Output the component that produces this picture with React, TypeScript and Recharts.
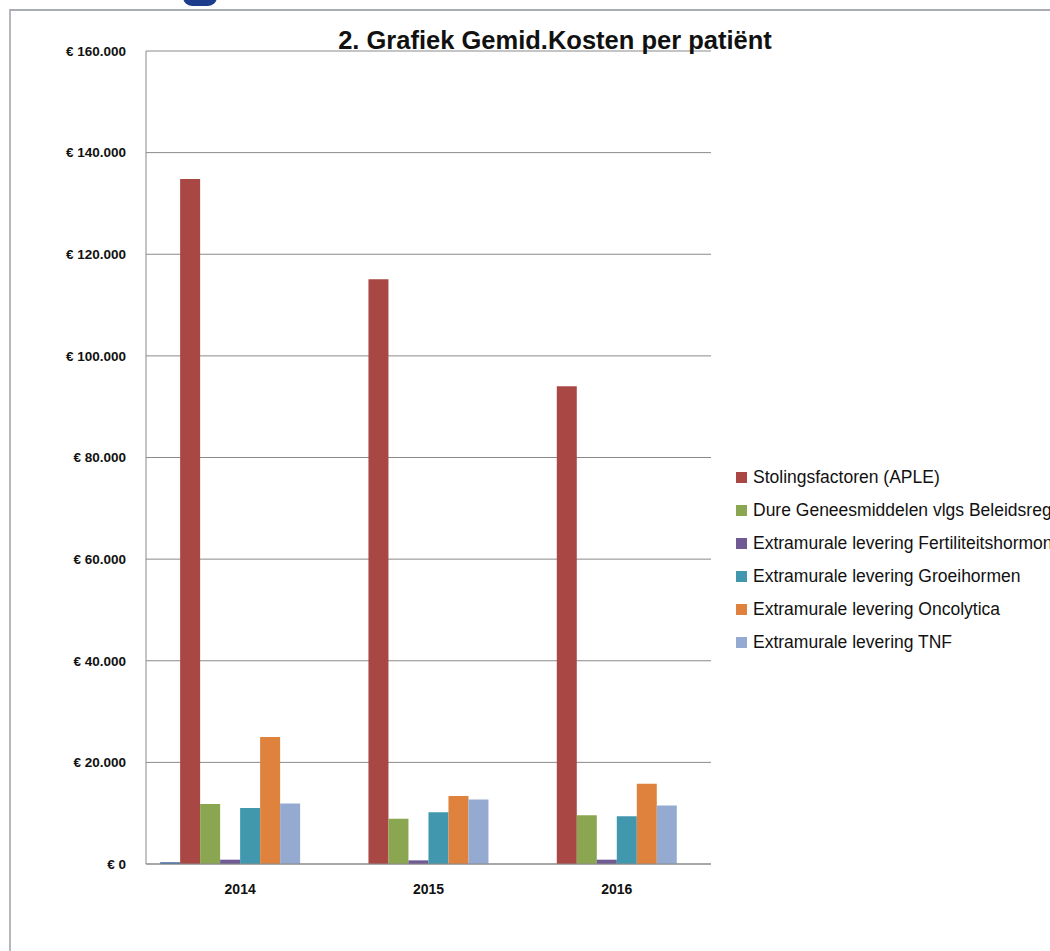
import { BarChart, Bar, XAxis, YAxis, CartesianGrid } from "recharts";

const years = ["2014", "2015", "2016"];
// eerste en laatste reeks staan niet in de legenda
const overig = [350, 0, 0];
const stolingsfactoren = [134800, 115100, 94000];
const dureGeneesmiddelen = [11800, 8900, 9600];
const fertiliteit = [850, 720, 850];
const groeihormen = [11000, 10200, 9400];
const oncolytica = [25000, 13400, 15800];
const tnf = [11900, 12700, 11500];
const leeg = [0, 0, 0];

const yTicks = [0, 20000, 40000, 60000, 80000, 100000, 120000, 140000, 160000];

const series = [
  { key: "overig", name: "Overig", color: "#4370A8", hidden: true },
  { key: "stolings", name: "Stolingsfactoren (APLE)", color: "#A94745" },
  { key: "dure", name: "Dure Geneesmiddelen vlgs Beleidsregel", color: "#8BA650" },
  { key: "fert", name: "Extramurale levering Fertiliteitshormonen", color: "#6F5A94" },
  { key: "groei", name: "Extramurale levering Groeihormen", color: "#4197AE" },
  { key: "onco", name: "Extramurale levering Oncolytica", color: "#DE823E" },
  { key: "tnf", name: "Extramurale levering TNF", color: "#95AAD1" },
  { key: "leeg", name: "Leeg", color: "#F2A9A9", hidden: true },
];

const data = years.map((year, i) => ({
  year,
  overig: overig[i],
  stolings: stolingsfactoren[i],
  dure: dureGeneesmiddelen[i],
  fert: fertiliteit[i],
  groei: groeihormen[i],
  onco: oncolytica[i],
  tnf: tnf[i],
  leeg: leeg[i],
}));

const euro = (v: number) =>
  v === 0 ? "€ 0" : "€ " + String(v).replace(/\B(?=(\d{3})+(?!\d))/g, ".");

const font = "'Liberation Sans', Arial, sans-serif";

function LegendBox() {
  return (
    <div
      style={{
        position: "absolute",
        left: 736,
        top: 461,
        fontFamily: font,
        fontSize: 17.5,
        color: "#111",
      }}
    >
      {series
        .filter((s) => !s.hidden)
        .map((s) => (
          <div
            key={s.key}
            style={{ height: 33, display: "flex", alignItems: "center", whiteSpace: "nowrap" }}
          >
            <span
              style={{ width: 11, height: 11, background: s.color, marginRight: 6, flex: "none" }}
            />
            {s.name}
          </div>
        ))}
    </div>
  );
}

export default function App() {
  return (
    <div
      style={{
        position: "fixed",
        left: 0,
        top: 0,
        width: 1050,
        height: 951,
        overflow: "hidden",
        background: "#fff",
      }}
    >
      {/* kader van de grafiek */}
      <div
        style={{
          position: "absolute",
          left: 9,
          top: 9,
          width: 1100,
          height: 1000,
          borderTop: "2px solid #a9adb3",
          borderLeft: "2px solid #b4b8bd",
        }}
      />
      <div
        style={{
          position: "absolute",
          left: 183,
          top: -12,
          width: 34,
          height: 18,
          borderRadius: 9,
          background: "#1c3d8c",
        }}
      />
      <div style={{ position: "absolute", left: 0, top: 0 }}>
        <BarChart
          width={1050}
          height={951}
          data={data}
          margin={{ top: 51, right: 339, left: 0, bottom: 47 }}
          barCategoryGap="7.5%"
          barGap={0}
        >
          <CartesianGrid vertical={false} stroke="#8a8a8a" />
          <XAxis
            dataKey="year"
            height={40}
            axisLine={{ stroke: "#8a8a8a" }}
            tickLine={false}
            tickMargin={14}
            tick={{ fontFamily: font, fontSize: 14, fontWeight: "bold", fill: "#111" }}
          />
          <YAxis
            width={146}
            domain={[0, 160000]}
            ticks={yTicks}
            tickFormatter={euro}
            axisLine={{ stroke: "#8a8a8a" }}
            tickLine={false}
            tickSize={0}
            tickMargin={20}
            tick={{ fontFamily: font, fontSize: 13.5, fontWeight: "bold", fill: "#111" }}
          />
          {series.map((s) => (
            <Bar
              key={s.key}
              dataKey={s.key}
              name={s.name}
              fill={s.color}
              isAnimationActive={false}
            />
          ))}
        </BarChart>
      </div>
      <LegendBox />
      <div
        style={{
          position: "absolute",
          left: 0,
          width: 1110,
          top: 26,
          textAlign: "center",
          fontFamily: font,
          fontWeight: "bold",
          fontSize: 25.5,
          color: "#111",
          whiteSpace: "nowrap",
        }}
      >
        2. Grafiek Gemid.Kosten per patiënt
      </div>
    </div>
  );
}
